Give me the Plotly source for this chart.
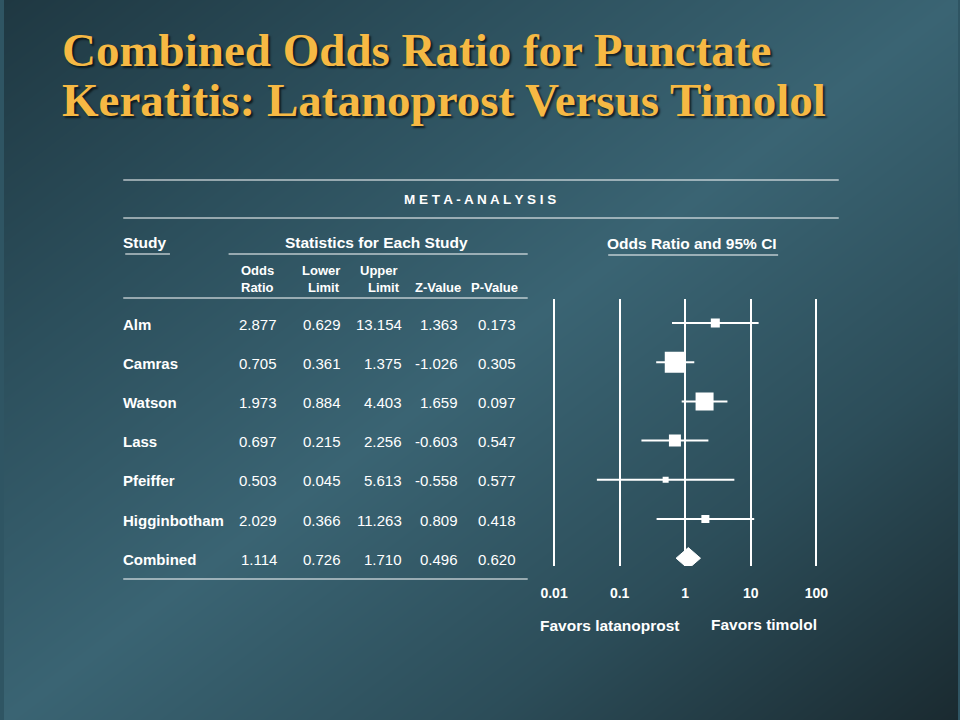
import plotly.graph_objects as go

W, H = 960, 720

# ---------------- data ----------------
studies = ["Alm", "Camras", "Watson", "Lass", "Pfeiffer", "Higginbotham", "Combined"]
odds_ratio = [2.877, 0.705, 1.973, 0.697, 0.503, 2.029, 1.114]
lower_limit = [0.629, 0.361, 0.884, 0.215, 0.045, 0.366, 0.726]
upper_limit = [13.154, 1.375, 4.403, 2.256, 5.613, 11.263, 1.710]
z_value = [1.363, -1.026, 1.659, -0.603, -0.558, 0.809, 0.496]
p_value = [0.173, 0.305, 0.097, 0.547, 0.577, 0.418, 0.620]
square_sizes = [9, 21, 18, 12, 6, 8]          # study weights shown as box size
tick_values = [0.01, 0.1, 1, 10, 100]
tick_labels = ["0.01", "0.1", "1", "10", "100"]

# ---------------- helpers ----------------
def px(x):
    return x / W

def py(y):
    return 1 - y / H

WHITE = "#ffffff"
FONT = "Liberation Sans, Arial, sans-serif"
SERIF = "Liberation Serif, Times New Roman, serif"
GOLD = "#F6B944"
PAD_L = 4   # annotation inner padding compensation (left-anchored)
PAD_R = 0

fig = go.Figure()

# background gradient (subplot xy, drawn first)
fig.add_trace(go.Heatmap(
    x=[0, 1], y=[0, 1], z=[[1, 2], [0, 1]], zmin=0, zmax=2, zsmooth="best",
    colorscale=[[0, "#1f3842"], [0.25, "#2c4f5c"], [0.5, "#3a6473"],
                [0.75, "#2c4d59"], [1, "#1a2a30"]],
    showscale=False, hoverinfo="skip", xaxis="x", yaxis="y"))

n_studies = len(square_sizes)
rows = list(range(len(studies)))

# confidence interval lines
ci_x, ci_y = [], []
for i in range(n_studies):
    ci_x += [lower_limit[i], upper_limit[i], None]
    ci_y += [rows[i], rows[i], None]
fig.add_trace(go.Scatter(x=ci_x, y=ci_y, mode="lines",
                         line=dict(color=WHITE, width=2),
                         xaxis="x2", yaxis="y2", hoverinfo="skip", showlegend=False))

# study squares
fig.add_trace(go.Scatter(x=odds_ratio[:n_studies], y=rows[:n_studies], mode="markers",
                         marker=dict(symbol="square", size=square_sizes, color=WHITE,
                                     opacity=1, line=dict(width=0)),
                         xaxis="x2", yaxis="y2", showlegend=False))

# combined diamond
c = len(studies) - 1
hh = 0.27
fig.add_trace(go.Scatter(
    x=[lower_limit[c], odds_ratio[c], upper_limit[c], odds_ratio[c], lower_limit[c]],
    y=[rows[c], rows[c] - hh, rows[c], rows[c] + hh, rows[c]],
    mode="lines", fill="toself", fillcolor=WHITE, line=dict(color=WHITE, width=1),
    xaxis="x2", yaxis="y2", hoverinfo="skip", showlegend=False))

# ---------------- axes ----------------
ppd = 66.0          # pixels per decade
center_px = 685.5
half = 2.15
x_dom = [px(center_px - half * ppd), px(center_px + half * ppd)]
y_top_px, y_bot_px = 299, 566
y_dom = [py(y_bot_px), py(y_top_px)]
row_px = 39.2
top_val = -(323 - y_top_px) / row_px
bot_val = top_val + (y_bot_px - y_top_px) / row_px

annotations = []
shapes = []

# title
for txt, yy in [("Combined Odds Ratio for Punctate", 50),
                ("Keratitis: Latanoprost Versus Timolol", 100)]:
    annotations.append(dict(text=txt, x=px(56), y=py(yy), xref="paper", yref="paper",
                            xanchor="left", yanchor="middle", showarrow=False,
                            font=dict(family=SERIF, size=47, color=GOLD, weight="bold",
                                      shadow="2px 2px 2px rgba(0,0,0,0.65)")))

def label(text, x, y, size=15, bold=True, anchor="center", yref="paper"):
    if anchor == "left":
        x -= PAD_L
    elif anchor == "right":
        x += PAD_R
    annotations.append(dict(text=text, x=px(x), y=(py(y) if yref == "paper" else y),
                            xref="paper", yref=yref, xanchor=anchor, yanchor="middle",
                            showarrow=False,
                            font=dict(family=FONT, size=size, color=WHITE,
                                      weight="bold" if bold else "normal")))

label("M E T A - A N A L Y S I S", 479, 199, size=13.5)
label("Study", 122, 242, size=15.5, anchor="left")
label("Statistics for Each Study", 375, 242, size=15.5)
label("Odds Ratio and 95% CI", 692, 243, size=15.5)
label("Odds", 255, 270, size=13)
label("Ratio", 255, 287, size=13)
label("Lower", 319, 270, size=13)
label("Limit", 322, 287, size=13)
label("Upper", 377, 270, size=13)
label("Limit", 382, 287, size=13)
label("Z-Value", 437, 287, size=13)
label("P-Value", 494, 287, size=13)
label("Favors latanoprost", 610, 625, size=15.5)
label("Favors timolol", 765, 624, size=15.5)

# table rows
col_right = [277, 341, 403, 459, 517]
for i, name in enumerate(studies):
    yv = rows[i] + 0.03
    label(name, 122, yv, size=15, anchor="left", yref="y2")
    vals = [odds_ratio[i], lower_limit[i], upper_limit[i], z_value[i], p_value[i]]
    for v, xr in zip(vals, col_right):
        label(f"{v:.3f}", xr, yv, size=15, bold=False, anchor="right", yref="y2")

# horizontal rules
for x0, x1, y in [(120, 840, 180), (120, 840, 218), (226, 527, 254), (122, 167, 254),
                  (608, 779, 255), (120, 527, 298), (120, 527, 579)]:
    shapes.append(dict(type="line", xref="paper", yref="paper",
                       x0=px(x0), x1=px(x1), y0=py(y), y1=py(y),
                       line=dict(color=WHITE, width=1.2)))

fig.update_layout(
    width=W, height=H, margin=dict(l=0, r=0, t=0, b=0),
    paper_bgcolor="#2f5563", plot_bgcolor="rgba(0,0,0,0)",
    showlegend=False,
    xaxis=dict(domain=[0, 1], range=[0, 1], visible=False, fixedrange=True),
    yaxis=dict(domain=[0, 1], range=[0, 1], visible=False, fixedrange=True),
    xaxis2=dict(domain=x_dom, type="log", range=[-half, half], anchor="y2",
                tickvals=tick_values, ticktext=tick_labels,
                showgrid=True, gridcolor=WHITE, gridwidth=2,
                zeroline=False, showline=False,
                ticks="outside", ticklen=14, tickcolor="rgba(0,0,0,0)",
                tickfont=dict(family=FONT, size=14, color=WHITE, weight="bold")),
    yaxis2=dict(domain=y_dom, range=[bot_val, top_val], anchor="x2",
                visible=False, showgrid=False, zeroline=False),
    annotations=annotations, shapes=shapes,
)

fig.write_html("out.html",
               config={"displayModeBar": False},
               post_script="document.body.style.margin='0px';"
                           "document.body.style.overflow='hidden';")
